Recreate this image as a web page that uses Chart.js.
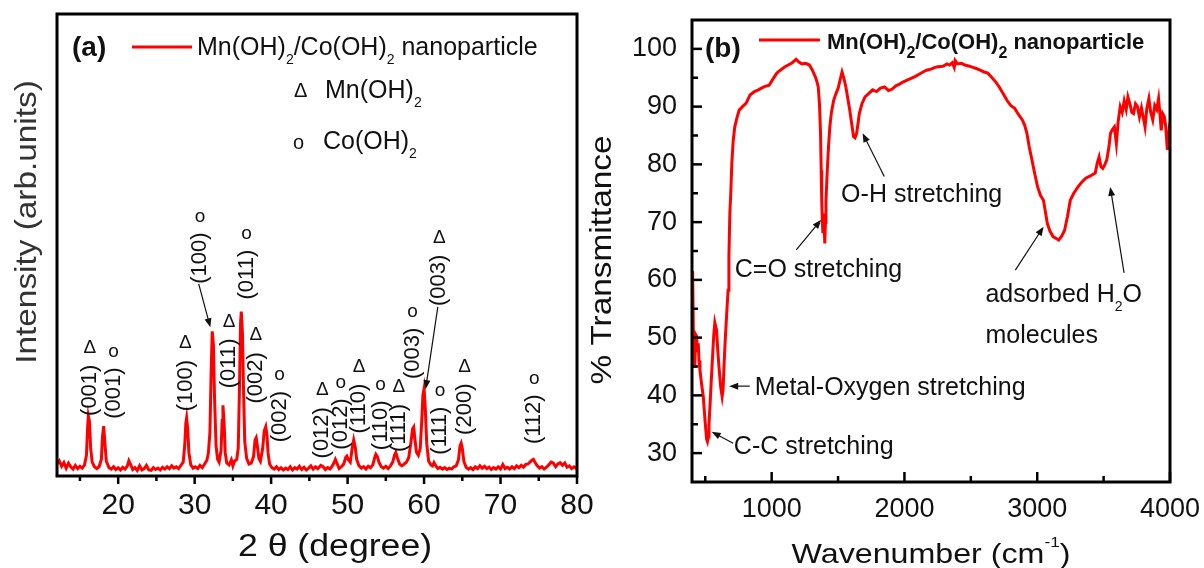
<!DOCTYPE html>
<html>
<head>
<meta charset="utf-8">
<script src="https://cdn.jsdelivr.net/npm/chart.js@4.4.0/dist/chart.umd.min.js"></script>
<style>
  html, body { margin: 0; padding: 0; background: #fff; }
  #wrap { position: relative; width: 1204px; height: 568px; overflow: hidden; }
  .panel { position: absolute; top: 0; height: 568px; }
  #pa { left: 0; width: 600px; }
  #pb { left: 585px; width: 619px; }
</style>
</head>
<body>
<div id="wrap">
  <div class="panel" id="pa"><canvas id="xrd"></canvas></div>
  <div class="panel" id="pb"><canvas id="ftir"></canvas></div>
</div>
<script>
// (a) XRD scan: [2theta, intensity in arb. units]
const xrdScan = [
  [12.0,2.6],[12.3,3.3],[12.6,2.1],[12.9,2.9],[13.2,1.7],[13.5,2.8],[13.8,2.0],[14.1,1.5],[14.4,2.3],[14.7,1.6],
  [15.0,2.1],[15.3,1.7],[15.6,2.4],[15.85,4.5],[16.0,10.5],[16.1,13.0],[16.25,11.8],[16.4,6.0],[16.6,3.0],[16.9,2.0],
  [17.2,1.6],[17.5,2.0],[17.8,3.6],[17.95,8.5],[18.1,10.8],[18.25,7.5],[18.45,3.2],[18.8,1.8],[19.1,1.5],[19.4,2.0],
  [19.7,1.4],[20.0,1.8],[20.3,1.3],[20.6,1.9],[20.9,1.5],[21.2,2.2],[21.4,3.3],[21.6,2.6],[21.9,1.4],[22.2,1.8],
  [22.5,1.2],[22.8,2.2],[23.1,1.3],[23.4,1.6],[23.7,2.3],[24.0,1.3],[24.3,1.2],[24.6,1.8],[24.9,1.4],[25.2,1.7],
  [25.5,1.3],[25.8,1.9],[26.1,1.5],[26.4,2.0],[26.7,1.6],[27.0,2.2],[27.3,1.7],[27.6,2.0],[27.9,1.6],[28.2,2.3],
  [28.5,3.0],[28.7,6.5],[28.85,11.5],[28.95,12.6],[29.1,10.0],[29.25,5.0],[29.5,2.4],[29.8,1.7],[30.1,2.0],[30.4,1.6],
  [30.7,2.3],[31.0,1.8],[31.3,2.6],[31.6,3.4],[31.8,5.0],[32.0,9.5],[32.15,22.0],[32.3,31.3],[32.45,28.5],[32.6,17.0],
  [32.8,6.5],[33.0,3.6],[33.2,3.0],[33.45,5.5],[33.6,12.0],[33.7,15.3],[33.85,11.5],[34.0,5.0],[34.2,2.8],[34.5,2.4],
  [34.8,3.5],[35.0,2.2],[35.2,3.2],[35.5,3.6],[35.7,6.0],[35.85,18.0],[36.0,33.0],[36.1,35.6],[36.25,31.0],[36.4,18.0],
  [36.55,7.5],[36.8,3.8],[37.1,2.6],[37.4,2.8],[37.7,4.2],[37.9,7.8],[38.05,8.3],[38.2,6.5],[38.4,3.8],[38.6,3.2],
  [38.9,6.0],[39.1,9.8],[39.3,10.7],[39.45,9.0],[39.6,5.0],[39.8,2.6],[40.1,1.8],[40.4,1.5],[40.7,2.0],[41.0,1.4],
  [41.3,1.8],[41.6,1.3],[41.9,1.7],[42.2,1.4],[42.5,2.0],[42.8,1.3],[43.1,1.8],[43.4,1.5],[43.7,2.1],[44.0,1.4],
  [44.3,1.9],[44.6,1.3],[44.9,1.7],[45.2,2.2],[45.5,1.5],[45.8,2.0],[46.1,1.6],[46.5,2.3],[46.8,2.0],[47.1,1.4],
  [47.4,1.8],[47.7,1.5],[48.0,2.2],[48.2,2.8],[48.4,3.6],[48.6,2.8],[48.9,1.6],[49.2,2.0],[49.5,2.6],[49.75,4.0],
  [49.9,4.3],[50.1,3.5],[50.35,3.0],[50.6,6.0],[50.8,7.8],[51.0,6.2],[51.2,3.5],[51.5,2.2],[51.8,1.7],[52.1,2.0],
  [52.4,1.5],[52.7,2.1],[53.0,1.8],[53.3,2.4],[53.55,4.0],[53.7,4.7],[53.9,4.2],[54.1,3.0],[54.4,2.0],[54.7,1.7],
  [55.0,2.1],[55.3,1.6],[55.6,2.2],[55.9,3.0],[56.15,4.6],[56.3,5.1],[56.5,4.0],[56.8,2.6],[57.1,2.2],[57.4,2.6],
  [57.7,3.0],[58.0,4.0],[58.3,7.5],[58.5,10.2],[58.65,10.6],[58.8,8.0],[59.0,5.2],[59.25,4.5],[59.5,6.0],[59.7,12.0],
  [59.85,17.5],[60.0,18.9],[60.15,15.0],[60.35,7.0],[60.6,3.2],[60.9,2.4],[61.1,2.2],[61.3,2.9],[61.5,2.3],[61.8,1.6],
  [62.1,1.9],[62.4,1.5],[62.7,1.8],[63.0,1.4],[63.3,1.7],[63.6,1.5],[63.9,2.0],[64.2,2.2],[64.5,3.5],[64.7,6.5],
  [64.85,7.1],[65.0,6.0],[65.2,3.2],[65.5,1.9],[65.8,1.5],[66.1,1.8],[66.4,1.4],[66.7,2.0],[67.0,1.6],[67.3,2.2],
  [67.6,1.7],[67.9,2.1],[68.2,1.6],[68.5,1.9],[68.8,1.4],[69.1,1.8],[69.4,1.5],[69.7,2.0],[70.0,1.5],[70.3,2.5],
  [70.6,1.6],[70.9,1.9],[71.2,1.5],[71.5,2.0],[71.8,1.6],[72.1,2.2],[72.4,1.8],[72.7,2.3],[73.0,1.9],[73.3,2.5],
  [73.6,2.6],[73.9,3.1],[74.1,3.4],[74.3,3.6],[74.5,3.0],[74.8,2.2],[75.1,1.7],[75.4,2.0],[75.7,1.5],[76.0,1.9],
  [76.3,2.4],[76.6,3.0],[76.9,2.8],[77.2,2.0],[77.5,2.6],[77.8,2.9],[78.1,2.3],[78.4,2.8],[78.7,1.9],[79.0,2.2],
  [79.3,1.6],[79.6,2.0],[80.0,1.6]
];
const xrdTicks = [20, 30, 40, 50, 60, 70, 80];
const xrdMinorTicks = [15, 25, 35, 45, 55, 65, 75];

// peak labels: text, phase symbol, angle, intensity at the foot of the text
const xrdPeakText  = ['(001)', '(001)', '(100)', '(100)', '(011)', '(011)', '(002)', '(002)', '(012)',
                      '(012)', '(110)', '(110)', '(111)', '(003)', '(003)', '(111)', '(200)', '(112)'];
const xrdPeakPhase = ['Δ', 'o', 'Δ', 'o', 'Δ', 'o', 'Δ', 'o', 'Δ', 'o', 'Δ', 'o', 'Δ', 'o', 'Δ', 'o', 'Δ', 'o'];
const xrdPeakAngle = [16.3, 19.4, 28.8, 30.7, 34.5, 36.8, 38.0, 41.1, 46.7, 49.1, 51.5, 54.3, 56.7, 58.5, 62.0, 62.1, 65.3, 74.4];
const xrdPeakFoot  = [13.0, 12.4, 14.0, 41.6, 19.0, 38.2, 15.7, 7.3, 3.8, 5.7, 9.2, 5.6, 5.2, 21.0, 36.8, 4.6, 8.9, 6.9];

// (b) FTIR spectrum: [wavenumber, % transmittance]
const ftirScan = [
  [400,61.5],[405,61.0],[410,51.5],[416,45.0],[422,45.8],[428,50.5],[435,50.2],[441,47.5],[447,49.0],[453,46.0],
  [460,44.4],[472,42.0],[485,39.8],[497,36.0],[510,32.4],[516,32.0],[522,32.8],[528,35.0],[535,38.0],[545,42.5],
  [555,46.7],[564,50.5],[572,52.6],[578,52.0],[585,51.3],[595,47.5],[605,44.4],[616,41.5],[627,39.8],[634,41.0],
  [642,45.6],[650,49.5],[660,53.6],[666,56.0],[672,58.2],[678,64.0],[685,71.5],[692,75.0],[700,80.2],[710,84.0],
  [722,86.5],[738,88.0],[755,89.4],[780,90.0],[808,90.6],[837,92.0],[870,92.6],[900,92.9],[923,93.2],[950,93.5],
  [981,93.7],[1010,94.8],[1039,95.8],[1070,96.4],[1100,96.9],[1125,97.2],[1155,97.6],[1184,98.2],[1205,97.7],[1227,97.4],
  [1255,97.5],[1284,97.2],[1305,96.4],[1328,95.2],[1340,94.4],[1351,93.4],[1360,90.5],[1368,85.4],[1373,79.0],[1377,73.8],
  [1382,70.0],[1386,68.1],[1393,71.5],[1400,66.3],[1405,70.0],[1409,73.8],[1415,77.0],[1420,79.5],[1428,83.0],[1438,86.5],
  [1450,89.0],[1467,91.1],[1485,92.3],[1501,93.2],[1515,94.6],[1530,96.0],[1545,94.8],[1559,93.4],[1575,91.2],[1588,89.4],
  [1603,87.0],[1617,84.8],[1628,84.6],[1640,85.4],[1650,87.0],[1660,88.8],[1680,90.5],[1703,91.7],[1732,92.3],[1760,92.9],
  [1790,92.6],[1819,93.2],[1850,93.4],[1880,92.8],[1906,93.0],[1935,93.6],[1963,93.9],[1992,94.3],[2020,94.6],[2050,94.9],
  [2079,95.2],[2110,95.6],[2140,96.0],[2166,96.3],[2200,96.5],[2230,96.8],[2252,96.9],[2290,97.0],[2320,97.4],[2339,97.2],
  [2360,97.6],[2375,96.8],[2382,98.0],[2400,97.4],[2430,97.5],[2455,97.2],[2490,97.0],[2515,96.8],[2541,96.6],[2570,96.3],
  [2600,96.0],[2628,95.8],[2660,95.0],[2690,94.2],[2714,93.4],[2745,92.2],[2772,91.1],[2800,90.2],[2830,89.7],[2860,88.6],
  [2888,87.7],[2905,86.8],[2922,85.4],[2940,83.0],[2960,80.8],[2980,78.5],[3003,76.1],[3025,74.6],[3047,73.8],[3060,72.0],
  [3076,69.8],[3095,68.5],[3119,67.5],[3140,67.2],[3162,66.9],[3185,67.6],[3206,68.6],[3228,71.0],[3249,73.8],[3275,75.0],
  [3307,76.1],[3335,76.9],[3365,77.6],[3400,78.0],[3437,78.5],[3452,80.2],[3466,81.3],[3480,79.6],[3494,79.3],[3510,80.0],
  [3524,80.8],[3540,83.0],[3552,85.4],[3565,86.0],[3581,86.5],[3596,83.6],[3610,87.5],[3625,90.0],[3640,89.0],[3655,91.0],
  [3670,89.5],[3683,91.7],[3700,90.3],[3712,89.0],[3725,88.8],[3740,90.5],[3755,90.0],[3770,88.2],[3785,89.8],[3800,88.0],
  [3812,86.5],[3825,89.6],[3841,91.4],[3855,89.0],[3870,87.7],[3885,90.2],[3900,89.5],[3914,91.4],[3925,88.5],[3934,85.9],
  [3945,88.8],[3957,88.3],[3968,86.5],[3980,82.5],[3990,85.0],[4000,83.0]
];
const ftirTicksX = [1000, 2000, 3000, 4000];
const ftirMinorX = [500, 1500, 2500, 3500];
const ftirTicksY = [30, 40, 50, 60, 70, 80, 90, 100];
const ftirMinorY = [35, 45, 55, 65, 75, 85, 95];

const FONT = '"Liberation Sans", Arial, sans-serif';
Chart.defaults.font.family = FONT;

// segs: [text, 0 normal | 1 subscript | 2 superscript], y is the baseline
function drawSegs(ctx, segs, x, y, o) {
  const fontOf = k => `${o.weight || 'normal'} ${k ? o.small : o.size}px ${FONT}`;
  let w = 0;
  segs.forEach(([t, k]) => { ctx.font = fontOf(k); w += ctx.measureText(t).width; });
  ctx.save();
  ctx.translate(x, y);
  if (o.rotate) ctx.rotate(o.rotate);
  ctx.scale(o.stretch || 1, 1);
  ctx.fillStyle = o.color || '#111';
  ctx.textBaseline = 'alphabetic';
  ctx.textAlign = 'left';
  let cx = o.align === 'center' ? -w / 2 : 0;
  segs.forEach(([t, k]) => {
    ctx.font = fontOf(k);
    ctx.fillText(t, cx, k === 1 ? o.drop : k === 2 ? -o.rise : 0);
    cx += ctx.measureText(t).width;
  });
  ctx.restore();
}

function arrow(ctx, x1, y1, x2, y2) {
  const ang = Math.atan2(y2 - y1, x2 - x1), L = 9, W = 3.5;
  const c = Math.cos(ang), s = Math.sin(ang);
  ctx.beginPath();
  ctx.moveTo(x1, y1);
  ctx.lineTo(x2 - c * L * 0.7, y2 - s * L * 0.7);
  ctx.stroke();
  ctx.beginPath();
  ctx.moveTo(x2, y2);
  ctx.lineTo(x2 - c * L + s * W, y2 - s * L - c * W);
  ctx.lineTo(x2 - c * L - s * W, y2 - s * L + c * W);
  ctx.closePath();
  ctx.fill();
}

// frame + hand placed tick marks (len > 0 points outwards)
function framePlugin(marks) {
  return {
    id: 'frame',
    afterDatasetsDraw(chart) {
      const { ctx, chartArea: a, scales } = chart;
      ctx.save();
      ctx.strokeStyle = '#000';
      ctx.lineWidth = 2.5;
      marks.forEach(m => {
        m.values.forEach(v => {
          ctx.beginPath();
          if (m.axis === 'x') {
            const px = scales.x.getPixelForValue(v);
            ctx.moveTo(px, a.bottom);
            ctx.lineTo(px, a.bottom + m.len);
          } else {
            const py = scales.y.getPixelForValue(v);
            ctx.moveTo(a.left, py);
            ctx.lineTo(a.left - m.len, py);
          }
          ctx.stroke();
        });
      });
      ctx.lineWidth = 3;
      ctx.strokeRect(a.left, a.top, a.right - a.left, a.bottom - a.top);
      ctx.restore();
    }
  };
}

const xrdText = {
  id: 'xrdText',
  afterDraw(chart) {
    const { ctx, chartArea: a, scales: { x, y } } = chart;
    ctx.save();
    // peak labels
    xrdPeakText.forEach((t, i) => {
      const px = x.getPixelForValue(xrdPeakAngle[i]);
      const py = y.getPixelForValue(xrdPeakFoot[i]);
      ctx.font = `22px ${FONT}`;
      const w = ctx.measureText(t).width;
      ctx.save();
      ctx.translate(px, py);
      ctx.rotate(-Math.PI / 2);
      ctx.fillStyle = '#111';
      ctx.textBaseline = 'middle';
      ctx.textAlign = 'left';
      ctx.fillText(t, 0, 0);
      ctx.restore();
      ctx.font = `19px ${FONT}`;
      ctx.fillStyle = '#111';
      ctx.textAlign = 'center';
      ctx.textBaseline = 'middle';
      ctx.fillText(xrdPeakPhase[i], px, py - w - (xrdPeakPhase[i] === 'o' ? 16 : 17));
    });
    // arrows to the strongest peaks
    ctx.strokeStyle = '#111';
    ctx.fillStyle = '#111';
    ctx.lineWidth = 1.2;
    [[30.53, 41.6, 32.05, 32.2], [61.8, 36.6, 60.2, 18.8]].forEach(([x1, y1, x2, y2]) => {
      arrow(ctx, x.getPixelForValue(x1), y.getPixelForValue(y1), x.getPixelForValue(x2), y.getPixelForValue(y2));
    });
    // legend
    drawSegs(ctx, [['(a)', 0]], a.left + 15, a.top + 42, { size: 28, weight: 'bold' });
    ctx.strokeStyle = '#ff0000';
    ctx.lineWidth = 3;
    ctx.beginPath();
    ctx.moveTo(a.left + 75, a.top + 33);
    ctx.lineTo(a.left + 135, a.top + 33);
    ctx.stroke();
    drawSegs(ctx, [['Mn(OH)', 0], ['2', 1], ['/Co(OH)', 0], ['2', 1], [' nanoparticle', 0]],
      a.left + 140, a.top + 41, { size: 25, small: 14, drop: 9 });
    drawSegs(ctx, [['Δ', 0]], a.left + 237, a.top + 83, { size: 20 });
    drawSegs(ctx, [['Mn(OH)', 0], ['2', 1]], a.left + 268, a.top + 84, { size: 25, small: 14, drop: 9 });
    drawSegs(ctx, [['o', 0]], a.left + 236, a.top + 135, { size: 20 });
    drawSegs(ctx, [['Co(OH)', 0], ['2', 1]], a.left + 266, a.top + 135, { size: 25, small: 14, drop: 9 });
    // axis titles
    drawSegs(ctx, [['Intensity (arb.units)', 0]], 36, 222,
      { size: 29, stretch: 1.15, rotate: -Math.PI / 2, align: 'center', color: '#333' });
    drawSegs(ctx, [['2 θ (degree)', 0]], 335, 556, { size: 31, stretch: 1.15, align: 'center' });
    ctx.restore();
  }
};

const ftirNotes = [
  { segs: [['C=O stretching', 0]], at: [722, 62.1], arrows: [[1185, 65.2, 1373, 70.4]] },
  { segs: [['O-H stretching', 0]], at: [1523, 75.1], arrows: [[1848, 77.9, 1685, 85.4]] },
  { segs: [['adsorbed H', 0], ['2', 1], ['O', 0]], at: [2610, 57.7],
    arrows: [[2835, 61.7, 3048, 69.2], [3654, 61.2, 3550, 76.1]] },
  { segs: [['molecules', 0]], at: [2610, 50.6], arrows: [] },
  { segs: [['Metal-Oxygen stretching', 0]], at: [872, 41.6], arrows: [[835, 41.6, 680, 41.6]] },
  { segs: [['C-C stretching', 0]], at: [715, 31.4], arrows: [[710, 31.7, 548, 33.7]] }
];

const ftirText = {
  id: 'ftirText',
  afterDraw(chart) {
    const { ctx, chartArea: a, scales: { x, y } } = chart;
    ctx.save();
    ctx.strokeStyle = '#111';
    ctx.fillStyle = '#111';
    ctx.lineWidth = 1.2;
    ftirNotes.forEach(n => {
      drawSegs(ctx, n.segs, x.getPixelForValue(n.at[0]), y.getPixelForValue(n.at[1]) + 9,
        { size: 25, small: 14, drop: 9 });
      n.arrows.forEach(([x1, y1, x2, y2]) => {
        arrow(ctx, x.getPixelForValue(x1), y.getPixelForValue(y1), x.getPixelForValue(x2), y.getPixelForValue(y2));
      });
    });
    // legend
    drawSegs(ctx, [['(b)', 0]], a.left + 13, a.top + 37, { size: 28, weight: 'bold' });
    ctx.strokeStyle = '#ff0000';
    ctx.lineWidth = 3;
    ctx.beginPath();
    ctx.moveTo(a.left + 67, a.top + 20);
    ctx.lineTo(a.left + 128, a.top + 20);
    ctx.stroke();
    drawSegs(ctx, [['Mn(OH)', 0], ['2', 1], ['/Co(OH)', 0], ['2', 1], [' nanoparticle', 0]],
      a.left + 135, a.top + 29, { size: 22, small: 16, drop: 9, weight: 'bold' });
    // axis titles
    drawSegs(ctx, [['% Transmittance', 0]], 26, 260,
      { size: 29, stretch: 1.15, rotate: -Math.PI / 2, align: 'center' });
    drawSegs(ctx, [['Wavenumber (cm', 0], ['-1', 2], [')', 0]], 346, 563,
      { size: 28, small: 15, rise: 16, stretch: 1.15, align: 'center' });
    ctx.restore();
  }
};

const setTicks = list => scale => { scale.ticks = list.map(v => ({ value: v })); };
// keep the plot box exactly where the layout padding puts it
const fitX = h => s => { s.height = h; s.paddingLeft = 0; s.paddingRight = 0; };
const fitY = w => s => { s.width = w; s.paddingTop = 0; s.paddingBottom = 0; };
const plain = v => String(v);

new Chart(document.getElementById('xrd'), {
  type: 'line',
  data: {
    datasets: [{
      label: 'Mn(OH)2/Co(OH)2 nanoparticle',
      data: xrdScan.map(([a, i]) => ({ x: a, y: i })),
      borderColor: '#ff0000',
      borderWidth: 3,
      pointRadius: 0,
      tension: 0
    }]
  },
  options: {
    animation: false,
    responsive: true,
    maintainAspectRatio: false,
    layout: { padding: { top: 14, right: 23, left: 0, bottom: 0 } },
    plugins: { legend: { display: false }, tooltip: { enabled: false } },
    scales: {
      x: {
        type: 'linear', min: 12, max: 80,
        afterBuildTicks: setTicks(xrdTicks),
        afterFit: fitX(92),
        grid: { display: false, drawTicks: false },
        border: { display: false },
        ticks: { font: { size: 30 }, color: '#111', padding: 12, autoSkip: false, maxRotation: 0, callback: plain }
      },
      y: {
        min: 0, max: 100,
        afterFit: fitY(57),
        grid: { display: false, drawTicks: false },
        border: { display: false },
        ticks: { display: false }
      }
    }
  },
  plugins: [framePlugin([
    { axis: 'x', values: xrdTicks, len: 8 },
    { axis: 'x', values: xrdMinorTicks, len: 5 }
  ]), xrdText]
});

new Chart(document.getElementById('ftir'), {
  type: 'line',
  data: {
    datasets: [{
      label: 'Mn(OH)2/Co(OH)2 nanoparticle',
      data: ftirScan.map(([w, t]) => ({ x: w, y: t })),
      borderColor: '#ff0000',
      borderWidth: 3,
      pointRadius: 0,
      tension: 0
    }]
  },
  options: {
    animation: false,
    responsive: true,
    maintainAspectRatio: false,
    layout: { padding: { top: 20, right: 34, left: 0, bottom: 0 } },
    plugins: { legend: { display: false }, tooltip: { enabled: false } },
    scales: {
      x: {
        type: 'linear', min: 400, max: 4000,
        afterBuildTicks: setTicks(ftirTicksX),
        afterFit: fitX(86),
        grid: { display: false, drawTicks: false },
        border: { display: false },
        ticks: { font: { size: 27 }, color: '#111', padding: 11, autoSkip: false, maxRotation: 0, callback: plain }
      },
      y: {
        min: 25, max: 105,
        afterBuildTicks: setTicks(ftirTicksY),
        afterFit: fitY(107),
        grid: { display: false, drawTicks: false },
        border: { display: false },
        ticks: { font: { size: 27 }, color: '#111', padding: 15, autoSkip: false, callback: plain }
      }
    }
  },
  plugins: [framePlugin([
    { axis: 'x', values: ftirTicksX, len: -10 },
    { axis: 'x', values: ftirMinorX, len: -6 },
    { axis: 'y', values: ftirTicksY, len: -10 },
    { axis: 'y', values: ftirMinorY, len: -6 }
  ]), ftirText]
});
</script>
</body>
</html>
